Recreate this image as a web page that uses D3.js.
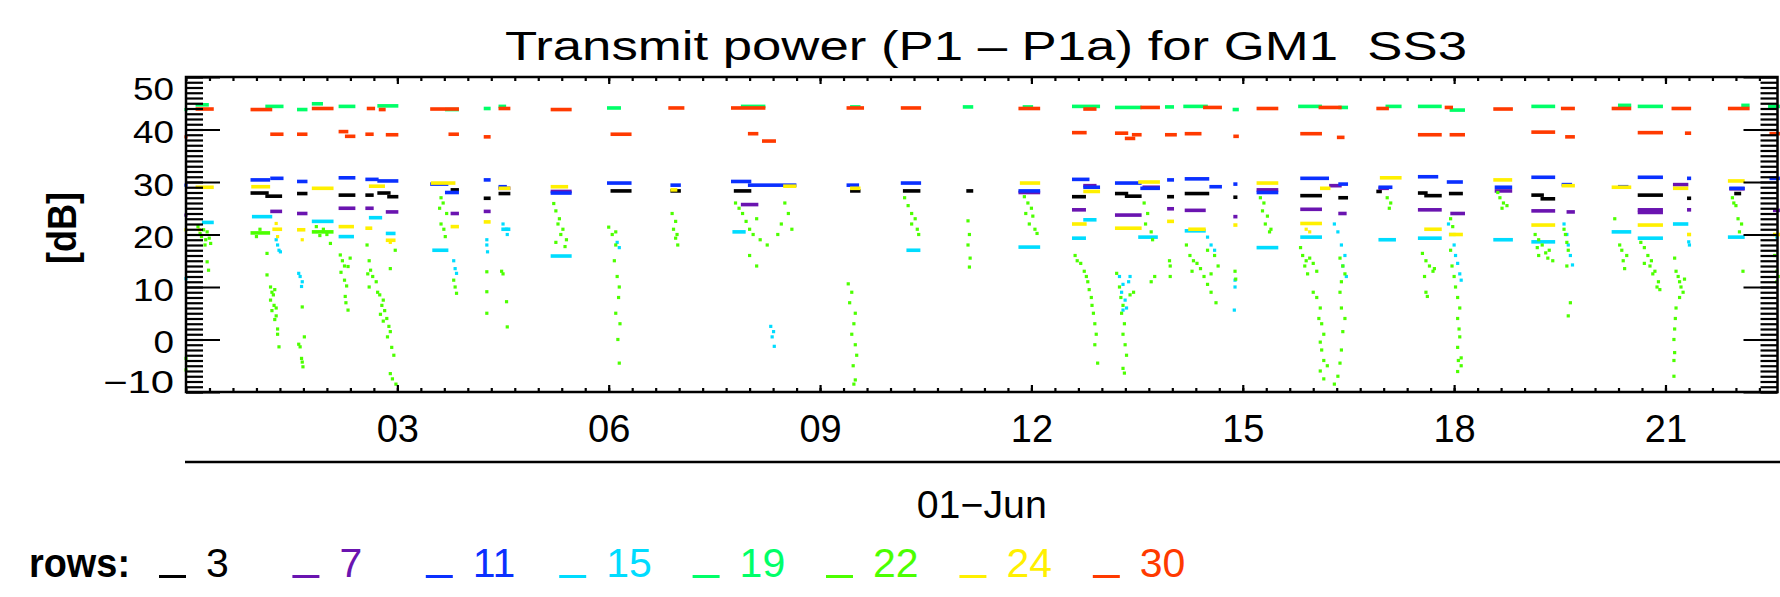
<!DOCTYPE html>
<html><head><meta charset="utf-8">
<script src="https://cdn.jsdelivr.net/npm/d3@7"></script>
<style>html,body{margin:0;padding:0;background:#fff;}svg{display:block;}text{white-space:pre;}</style>
</head><body>
<svg id="chart" width="1780" height="597"></svg>
<script>
// ---------------- data ----------------
const titleText = "Transmit power (P1 \u2013 P1a) for GM1  SS3";
const yTitle = "[dB]";
const yTickValues = [-10, 0, 10, 20, 30, 40, 50];
const xTickHours = [3, 6, 9, 12, 15, 18, 21];
const xTickLabels = ["03", "06", "09", "12", "15", "18", "21"];
const dateLabel = "01\u2212Jun";
const legendTitle = "rows:";
const rowNames = ["3", "7", "11", "15", "19", "22", "24", "30"];
const rowColors = ["#000000", "#6a14b0", "#0a30ff", "#00dcff", "#00ff68", "#4cff00", "#fff000", "#ff3a00"];

// runs: [startHour, endHour, dB]   points: [hour, dB]
const row3Runs = [[0.94,1.15,27.9],[1.15,1.34,27.3],[1.6,1.7,27.8],[2.19,2.38,27.5],[2.57,2.64,27.5],[2.74,2.88,27.9],[2.88,2.99,27.2],[3.78,3.85,28.5],[4.25,4.3,26.9],[4.46,4.58,27.8],[6.05,6.3,28.3],[6.9,7.0,28.3],[7.8,8.0,28.3],[9.45,9.55,28.3],[10.2,10.4,28.3],[11.1,11.15,28.3],[12.6,12.75,27.2],[13.21,13.35,27.8],[13.35,13.54,27.3],[13.95,14.0,27.2],[14.2,14.5,27.8],[14.89,14.9,27.1],[15.84,16.1,27.4],[16.38,16.47,27.0],[16.92,16.95,28.2],[17.51,17.6,27.9],[17.6,17.8,27.4],[17.95,18.1,27.8],[19.12,19.25,27.5],[19.25,19.41,26.8],[20.63,20.94,27.5],[21.33,21.34,26.9],[22.0,22.05,27.8]];
const row3Pts = [];

const row7Runs = [[1.22,1.34,24.4],[1.6,1.7,24.0],[2.19,2.38,25.0],[2.57,2.64,25.0],[2.86,2.99,24.3],[3.78,3.85,24.0],[4.25,4.3,24.4],[4.46,4.58,28.8],[5.2,5.45,28.2],[7.9,8.1,25.7],[11.84,12.1,28.0],[12.6,12.75,24.7],[12.76,12.9,29.3],[13.21,13.54,23.7],[13.6,13.8,29.0],[13.95,14.0,24.9],[14.2,14.45,24.6],[14.89,14.9,23.4],[15.22,15.48,28.5],[15.84,16.1,24.8],[16.25,16.38,29.3],[16.38,16.45,24.0],[16.95,17.05,28.8],[17.51,17.8,24.7],[17.97,18.13,24.0],[18.6,18.8,28.3],[19.12,19.41,24.5],[19.62,19.69,24.3],[20.63,20.94,24.7],[20.63,20.94,24.2],[21.13,21.3,29.5],[21.33,21.34,24.7],[21.93,22.1,28.7],[22.55,22.6,24.6]];
const row7Pts = [[0,23.7]];

const row11Runs = [[0.94,1.17,30.4],[1.22,1.36,30.7],[1.6,1.7,30.1],[2.19,2.38,30.8],[2.57,2.71,30.5],[2.74,2.99,30.2],[3.49,3.7,29.6],[3.7,3.85,28.0],[4.25,4.3,30.4],[4.46,4.53,29.1],[5.2,5.45,27.9],[6.0,6.3,29.8],[6.9,7.0,29.4],[7.76,8.0,30.1],[8.0,8.64,29.4],[9.4,9.53,29.4],[10.17,10.41,29.8],[11.84,12.1,28.3],[12.6,12.8,30.5],[12.76,12.95,29.0],[13.21,13.54,29.8],[13.57,13.8,28.8],[13.95,14.0,30.4],[14.2,14.5,30.6],[14.55,14.68,29.1],[14.89,14.9,29.6],[15.22,15.48,28.0],[15.84,16.2,30.7],[16.38,16.47,29.6],[16.95,17.1,29.0],[17.51,17.75,31.0],[17.92,18.1,30.0],[18.6,18.8,29.0],[19.12,19.41,30.9],[19.55,19.65,29.5],[20.35,20.45,29.1],[20.63,20.94,30.9],[21.33,21.34,30.7],[21.93,22.1,28.8],[22.5,22.6,30.7]];
const row11Pts = [[0,29.4]];

const row15Runs = [[0.25,0.37,22.3],[0.96,1.2,23.4],[1.81,2.07,22.5],[2.19,2.36,19.6],[2.62,2.76,23.2],[2.86,2.95,20.2],[3.52,3.7,17.0],[4.5,4.58,21.0],[5.2,5.45,15.9],[7.78,7.92,20.5],[10.25,10.4,17.0],[11.84,12.1,17.6],[12.6,12.75,19.3],[12.76,12.9,22.8],[13.54,13.77,19.5],[14.2,14.45,20.7],[15.22,15.48,17.5],[15.84,16.1,19.5],[16.95,17.15,19.0],[17.51,17.8,19.3],[18.58,18.81,19.0],[19.12,19.41,18.6],[20.26,20.49,20.5],[20.63,20.94,19.3],[21.13,21.3,22.0],[21.91,22.1,19.5]];
const row15Pts = [[0,11.6],[1.28,19.0],[1.3,18.0],[1.32,17.0],[1.34,16.7],[1.6,12.6],[1.62,12.0],[1.65,11.0],[1.64,10.1],[3.8,15.0],[3.82,13.5],[3.84,12.6],[4.27,19.0],[4.27,18.0],[4.28,16.7],[4.5,22.0],[4.55,21.0],[4.56,20.0],[6.12,18.5],[6.15,17.5],[8.3,2.5],[8.32,0.5],[8.35,-1.3],[8.34,1.5],[13.25,12.0],[13.3,10.5],[13.28,9.0],[13.33,7.5],[13.35,6.0],[13.3,5.6],[13.38,11.0],[13.4,12.0],[14.5,19.5],[14.55,18.0],[14.6,17.0],[14.89,11.3],[14.89,10.0],[14.88,5.6],[16.3,22.0],[16.35,20.5],[16.4,18.0],[16.45,16.0],[16.42,14.0],[16.47,12.0],[17.92,22.0],[17.95,20.0],[18.0,18.0],[18.02,16.0],[18.05,14.5],[18.08,12.5],[18.1,11.3],[19.56,22.0],[19.6,20.0],[19.62,18.0],[19.65,16.0],[19.68,14.2],[21.33,18.6],[21.34,18.0],[22.58,19.5]];

const row19Runs = [[0.16,0.3,44.7],[1.15,1.36,44.4],[1.6,1.7,43.8],[1.81,1.92,44.9],[2.19,2.38,44.4],[2.74,2.99,44.5],[3.7,3.85,43.8],[4.25,4.3,44.0],[4.46,4.52,44.4],[6.0,6.15,44.1],[7.9,8.2,44.4],[9.45,9.55,44.3],[11.05,11.15,44.3],[11.9,12.0,44.3],[12.6,12.95,44.4],[13.21,13.54,44.2],[13.92,14.0,44.3],[14.18,14.48,44.4],[14.88,14.92,43.8],[15.81,16.1,44.4],[16.38,16.47,44.2],[17.05,17.23,44.4],[17.51,17.8,44.4],[17.96,18.13,43.7],[19.12,19.41,44.4],[20.35,20.49,44.6],[20.63,20.94,44.4],[22.1,22.17,44.6],[22.48,22.6,44.4]];
const row19Pts = [[0,43.8]];

const row22Runs = [[0.94,1.17,20.3],[1.81,2.07,20.5]];
const row22Pts = [[0,-3.6],[0,-5.8],[0.17,21.5],[0.2,20.2],[0.22,19.6],[0.25,20.9],[0.28,19.0],[0.3,20.5],[0.33,19.3],[0.35,18.3],[0.3,14.8],[0.32,13.2],[0.27,18.0],
[1.0,19.6],[1.05,21.0],[1.15,16.4],[1.15,12.3],[1.2,10.0],[1.22,9.0],[1.24,8.5],[1.2,7.5],[1.25,6.5],[1.22,5.5],[1.28,4.5],[1.26,3.8],[1.3,2.0],[1.3,1.0],[1.32,-1.4],[1.28,6.0],[1.26,9.5],
[1.65,6.2],[1.68,0.5],[1.6,-0.9],[1.62,-1.4],[1.64,-3.6],[1.66,-5.2],[1.65,-4.3],
[1.85,21.5],[1.9,19.8],[1.95,21.0],[2.0,20.0],[2.05,18.3],
[2.19,16.1],[2.22,15.0],[2.25,14.0],[2.3,13.9],[2.33,15.5],[2.2,12.8],[2.25,11.3],[2.28,10.2],[2.26,8.2],[2.27,7.0],[2.3,5.6],
[2.57,18.0],[2.6,15.0],[2.62,13.2],[2.58,12.5],[2.65,12.0],[2.7,11.0],[2.6,10.0],[2.72,9.0],[2.75,8.5],[2.8,7.5],[2.78,6.5],[2.82,5.5],[2.76,4.8],[2.8,3.5],[2.85,4.0],[2.88,2.5],[2.9,1.5],[2.86,0.5],[2.92,-1.5],[2.95,-3.0],[2.9,-6.5],[2.93,-7.5],[2.98,-8.5],[2.97,17.0],[2.9,13.5],
[3.62,27.0],[3.65,26.0],[3.6,25.0],[3.7,24.0],[3.62,22.0],[3.66,21.0],[3.68,19.6],[3.8,11.3],[3.82,10.0],[3.84,8.8],
[4.27,12.9],[4.27,9.1],[4.27,5.0],[4.48,13.0],[4.5,12.5],[4.55,7.2],[4.56,2.4],
[5.22,25.9],[5.25,24.5],[5.3,23.0],[5.28,22.0],[5.35,21.0],[5.32,20.0],[5.4,19.0],[5.38,17.7],[5.25,18.5],
[6.0,21.4],[6.05,20.0],[6.1,18.0],[6.08,15.0],[6.12,12.0],[6.15,10.0],[6.14,8.0],[6.1,5.0],[6.16,3.0],[6.13,0.0],[6.15,-4.5],[6.1,20.5],
[6.9,24.0],[6.95,22.5],[6.92,21.0],[6.97,20.0],[6.95,19.3],[6.98,18.0],
[7.8,26.0],[7.85,25.0],[7.9,24.0],[7.95,22.5],[8.0,21.0],[8.05,20.0],[8.1,23.0],[8.15,19.0],[8.25,18.0],[8.4,20.0],[8.45,22.0],[8.5,26.0],[8.55,24.0],[8.6,21.0],[8.0,16.0],[8.1,14.0],
[9.4,10.6],[9.45,9.0],[9.42,7.0],[9.5,5.0],[9.48,3.0],[9.45,1.0],[9.5,-1.0],[9.52,-3.0],[9.47,-5.0],[9.5,-7.7],[9.48,-8.5],
[10.2,27.0],[10.25,25.5],[10.3,24.0],[10.35,23.0],[10.3,22.0],[10.38,21.0],[10.4,20.0],
[11.1,22.6],[11.12,20.0],[11.1,18.0],[11.13,15.5],[11.12,13.8],
[11.9,27.2],[11.95,26.0],[12.0,25.0],[11.92,24.0],[12.02,23.5],[11.97,22.0],[12.05,21.0],[12.08,20.2],
[12.62,16.0],[12.65,15.0],[12.7,14.5],[12.75,13.0],[12.78,12.0],[12.8,11.0],[12.82,9.5],[12.85,8.0],[12.86,6.5],[12.88,5.0],[12.9,3.0],[12.92,1.0],[12.9,-1.0],[12.94,-4.5],
[13.21,12.6],[13.25,10.0],[13.27,8.0],[13.3,6.5],[13.28,5.0],[13.32,3.0],[13.3,1.0],[13.33,-1.0],[13.35,-3.0],[13.3,-5.5],[13.32,-6.4],[13.4,8.5],[13.45,9.0],[13.6,26.0],[13.65,24.0],[13.62,22.0],[13.7,20.5],[13.72,19.0],[13.75,12.0],[13.7,11.0],
[13.96,15.0],[13.97,14.0],[13.97,12.0],
[14.2,18.0],[14.25,16.0],[14.3,15.0],[14.35,14.5],[14.28,13.0],[14.4,13.5],[14.45,12.0],[14.5,10.5],[14.55,9.0],[14.62,7.0],[14.5,17.0],[14.6,16.0],[14.65,14.0],[14.55,12.5],
[14.89,13.0],[14.9,11.5],
[15.25,27.0],[15.3,26.0],[15.28,24.5],[15.35,23.5],[15.32,22.0],[15.4,21.0],[15.38,20.5],
[15.82,17.5],[15.85,16.0],[15.9,15.0],[15.88,14.0],[15.95,15.5],[16.0,14.5],[15.92,12.5],[16.05,13.0],[16.0,9.0],[16.05,8.0],[16.1,6.0],[16.08,4.0],[16.12,3.0],[16.15,1.0],[16.1,-0.5],[16.12,-2.0],[16.15,-4.0],[16.1,-6.0],[16.15,-7.5],[16.2,-5.0],[16.3,-8.5],[16.35,-7.0],[16.38,-4.5],[16.4,-2.0],[16.42,1.5],[16.45,4.0],[16.4,6.0],[16.38,9.0],[16.4,11.0],[16.42,14.0],[16.38,15.5],[16.45,12.5],
[17.05,27.0],[17.1,26.0],[17.08,25.0],
[17.55,16.4],[17.6,15.0],[17.65,14.0],[17.7,13.0],[17.72,13.5],[17.58,12.0],[17.6,9.0],[17.62,8.2],
[17.95,23.0],[17.98,21.5],[18.0,20.0],[17.95,17.0],[17.97,14.0],[18.0,12.0],[18.02,10.0],[18.05,8.0],[18.08,6.0],[18.05,4.0],[18.07,2.0],[18.08,0.5],[18.05,-1.5],[18.1,-3.5],[18.06,-4.0],[18.1,-5.0],[18.05,-6.1],
[18.62,28.0],[18.65,27.0],[18.7,26.0],[18.68,25.0],[18.75,25.5],
[19.15,20.0],[19.2,19.0],[19.18,17.5],[19.25,18.0],[19.3,16.5],[19.35,17.0],[19.33,15.5],[19.4,15.0],[19.2,16.0],
[19.56,21.0],[19.58,20.0],[19.6,18.5],[19.62,17.0],[19.6,14.0],[19.65,7.0],[19.62,4.5],
[20.28,23.0],[20.35,18.0],[20.38,17.0],[20.4,15.0],[20.42,13.5],[20.45,16.0],
[20.65,18.5],[20.7,17.5],[20.75,16.0],[20.8,15.0],[20.78,14.0],[20.85,13.0],[20.82,12.5],[20.9,11.0],[20.88,10.0],[20.7,14.5],[20.92,9.5],
[21.13,15.5],[21.15,13.0],[21.18,12.0],[21.2,11.0],[21.22,10.0],[21.2,8.0],[21.15,6.0],[21.14,4.0],[21.13,2.0],[21.12,0.0],[21.13,-2.5],[21.12,-4.0],[21.12,-7.0],[21.25,9.0],[21.27,11.5],
[21.95,27.0],[21.97,26.0],[22.0,25.5],[22.03,23.0],[22.05,20.5],[22.08,22.0],[22.1,13.0],
[22.55,16.0],[22.58,13.0],[22.6,12.0],[22.58,11.0]];

const row24Runs = [[0.16,0.37,29.0],[0.95,1.17,29.1],[1.25,1.34,21.0],[1.6,1.67,20.9],[1.81,2.07,28.8],[2.19,2.36,21.5],[2.62,2.8,29.2],[2.57,2.62,21.2],[2.86,2.95,18.9],[3.5,3.8,29.8],[3.78,3.85,21.5],[4.25,4.3,22.4],[4.46,4.58,28.8],[5.2,5.4,29.1],[6.9,6.95,28.5],[8.5,8.64,29.2],[9.45,9.55,28.8],[11.86,12.1,29.8],[12.6,12.76,22.0],[12.76,12.95,28.2],[13.21,13.54,21.2],[13.54,13.8,30.0],[13.95,14.0,22.5],[14.25,14.45,21.0],[14.89,14.9,21.8],[15.22,15.48,29.8],[15.84,16.1,22.1],[16.12,16.22,28.8],[16.97,17.23,30.8],[17.6,17.8,21.0],[17.95,18.1,20.0],[18.58,18.8,30.4],[19.12,19.41,21.8],[19.55,19.69,29.3],[20.26,20.49,29.0],[20.63,20.94,21.8],[21.13,21.3,28.8],[21.33,21.34,20.0],[21.91,22.1,30.2],[22.55,22.6,20.0]];
const row24Pts = [[0,20.9],[0.19,20.9],[1.28,22.1],[1.3,19.6],[1.65,19.0],[2.9,18.5],[15.9,21.0],[15.95,20.5]];

const row30Runs = [[0.16,0.37,43.9],[0.94,1.2,43.8],[1.81,2.07,44.0],[2.59,2.66,44.0],[2.76,2.81,43.8],[3.49,3.85,43.9],[4.46,4.58,44.0],[5.2,5.45,43.8],[6.87,7.05,44.1],[7.76,8.2,44.1],[9.4,9.6,44.1],[10.17,10.41,44.1],[11.84,12.1,44.0],[12.76,12.9,43.9],[13.57,13.8,44.2],[14.46,14.68,44.2],[15.22,15.48,44.0],[16.1,16.38,44.2],[16.92,17.05,44.0],[17.89,17.96,44.2],[18.58,18.81,43.9],[19.54,19.69,44.0],[20.26,20.49,44.0],[21.11,21.34,44.0],[21.91,22.17,44.0],
[1.22,1.36,39.1],[1.6,1.7,39.1],[2.19,2.28,39.6],[2.28,2.38,38.7],[2.57,2.64,39.1],[2.86,2.99,39.0],[3.75,3.85,39.1],[4.25,4.3,38.6],[6.05,6.3,39.1],[8.0,8.1,39.2],[8.2,8.35,37.8],[12.6,12.76,39.4],[13.21,13.35,39.3],[13.35,13.45,38.3],[13.45,13.54,39.0],[13.92,14.04,39.0],[14.2,14.39,39.2],[14.89,14.92,38.7],[15.84,16.1,39.2],[16.36,16.42,38.5],[17.51,17.8,39.0],[17.96,18.13,39.0],[19.12,19.41,39.5],[19.6,19.69,38.6],[20.63,20.94,39.4],[21.3,21.34,39.3],[22.5,22.6,39.2]];
const row30Pts = [[0,38.6]];

// ---------------- chart ----------------
const rows = [
  {runs: row3Runs, pts: row3Pts},
  {runs: row7Runs, pts: row7Pts},
  {runs: row11Runs, pts: row11Pts},
  {runs: row15Runs, pts: row15Pts},
  {runs: row19Runs, pts: row19Pts},
  {runs: row22Runs, pts: row22Pts},
  {runs: row24Runs, pts: row24Pts},
  {runs: row30Runs, pts: row30Pts}
].map((r, i) => ({...r, name: rowNames[i], color: rowColors[i]}));

const svg = d3.select("#chart");
const W = 1780, H = 597;
const L = 186, R = 1777.5, T = 77, B = 392;
const x = d3.scaleLinear().domain([0, 22.59]).range([L, R]);
const y = d3.scaleLinear().domain([-10, 50]).range([B, T]);
const FONT = "'Liberation Sans', Arial, sans-serif";

svg.append("rect").attr("width", W).attr("height", H).attr("fill", "#fff");

// data marks
const marks = svg.append("g");
rows.forEach(r => {
  const g = marks.append("g").attr("fill", r.color);
  g.selectAll("rect.run").data(r.runs).join("rect").attr("class", "run")
    .attr("x", d => x(d[0]) - 1.7)
    .attr("width", d => x(d[1]) - x(d[0]) + 3.4)
    .attr("y", d => y(d[2]) - 1.8)
    .attr("height", 3.6);
  g.selectAll("rect.pt").data(r.pts).join("rect").attr("class", "pt")
    .attr("x", d => x(d[0]) - 1.6)
    .attr("y", d => y(d[1]) - 1.6)
    .attr("width", 3.2).attr("height", 3.2);
});

// axes
function styleAxis(g) {
  g.select(".domain").remove();
  g.selectAll(".tick line").attr("stroke", "#000").attr("stroke-width", 2.2);
}
const minorY = d3.range(-10, 51, 1);
svg.append("g").attr("transform", `translate(${L},0)`)
  .call(d3.axisLeft(y).tickValues(minorY).tickSize(-17).tickFormat(""))
  .call(styleAxis);
svg.append("g").attr("transform", `translate(${R},0)`)
  .call(d3.axisRight(y).tickValues(minorY).tickSize(-17).tickFormat(""))
  .call(styleAxis);
svg.append("g").attr("transform", `translate(${R},0)`)
  .call(d3.axisRight(y).tickValues(yTickValues).tickSize(-34).tickFormat(""))
  .call(styleAxis);
const yl = svg.append("g").attr("transform", `translate(${L},0)`)
  .call(d3.axisLeft(y).tickValues(yTickValues).tickSize(-34).tickPadding(12)
    .tickFormat(d => d < 0 ? "\u2212" + Math.abs(d) : String(d)))
  .call(styleAxis);
yl.selectAll(".tick text")
  .attr("font-family", FONT).attr("font-size", 31).attr("fill", "#000")
  .attr("dy", d => d === 50 ? "0.74em" : (d === -10 ? "0.03em" : "0.42em"))
  .attr("textLength", d => d < 0 ? 71 : String(d).length * 20.5)
  .attr("lengthAdjust", "spacingAndGlyphs");

const minorX = d3.range(0, 22.6, 1/3);
svg.append("g").attr("transform", `translate(0,${B})`)
  .call(d3.axisBottom(x).tickValues(minorX).tickSize(-4).tickFormat(""))
  .call(styleAxis);
svg.append("g").attr("transform", `translate(0,${T})`)
  .call(d3.axisTop(x).tickValues(minorX).tickSize(-4).tickFormat(""))
  .call(styleAxis);
svg.append("g").attr("transform", `translate(0,${T})`)
  .call(d3.axisTop(x).tickValues(xTickHours).tickSize(-7).tickFormat(""))
  .call(styleAxis);
const xl = svg.append("g").attr("transform", `translate(0,${B})`)
  .call(d3.axisBottom(x).tickValues(xTickHours).tickSize(-7).tickPadding(23)
    .tickFormat((d, i) => xTickLabels[i]))
  .call(styleAxis);
xl.selectAll(".tick text").attr("font-family", FONT).attr("font-size", 38).attr("fill", "#000");

// frame
svg.append("rect").attr("x", L).attr("y", T).attr("width", R - L).attr("height", B - T)
  .attr("fill", "none").attr("stroke", "#000").attr("stroke-width", 2.5);

// second-level date axis
svg.append("line").attr("x1", L - 1).attr("x2", W).attr("y1", 462).attr("y2", 462)
  .attr("stroke", "#000").attr("stroke-width", 2.5);
svg.append("text").attr("x", (L + R) / 2).attr("y", 518).attr("text-anchor", "middle")
  .attr("font-family", FONT).attr("font-size", 38)
  .attr("textLength", 130).attr("lengthAdjust", "spacingAndGlyphs").text(dateLabel);

// title
svg.append("text").attr("x", 505).attr("y", 60).attr("xml:space", "preserve")
  .attr("font-family", FONT).attr("font-size", 41)
  .attr("textLength", 962).attr("lengthAdjust", "spacingAndGlyphs").text(titleText);

// y title
svg.append("text").attr("transform", "translate(76,228) rotate(-90)")
  .attr("text-anchor", "middle").attr("font-family", FONT).attr("font-weight", "bold")
  .attr("font-size", 40).attr("textLength", 72).attr("lengthAdjust", "spacingAndGlyphs").text(yTitle);

// legend
const lg = svg.append("g").attr("font-family", FONT).attr("font-weight", "bold").attr("font-size", 40);
lg.append("text").attr("x", 29).attr("y", 577).attr("textLength", 101)
  .attr("lengthAdjust", "spacingAndGlyphs").text(legendTitle);
rows.forEach((r, i) => {
  const x0 = 159 + i * 133.4;
  lg.append("rect").attr("x", x0).attr("y", 575).attr("width", 27).attr("height", 3).attr("fill", r.color);
  lg.append("text").attr("x", x0 + 47).attr("y", 577).attr("fill", r.color)
    .attr("font-weight", "normal").attr("font-size", 41).text(r.name);
});
</script>
</body></html>
